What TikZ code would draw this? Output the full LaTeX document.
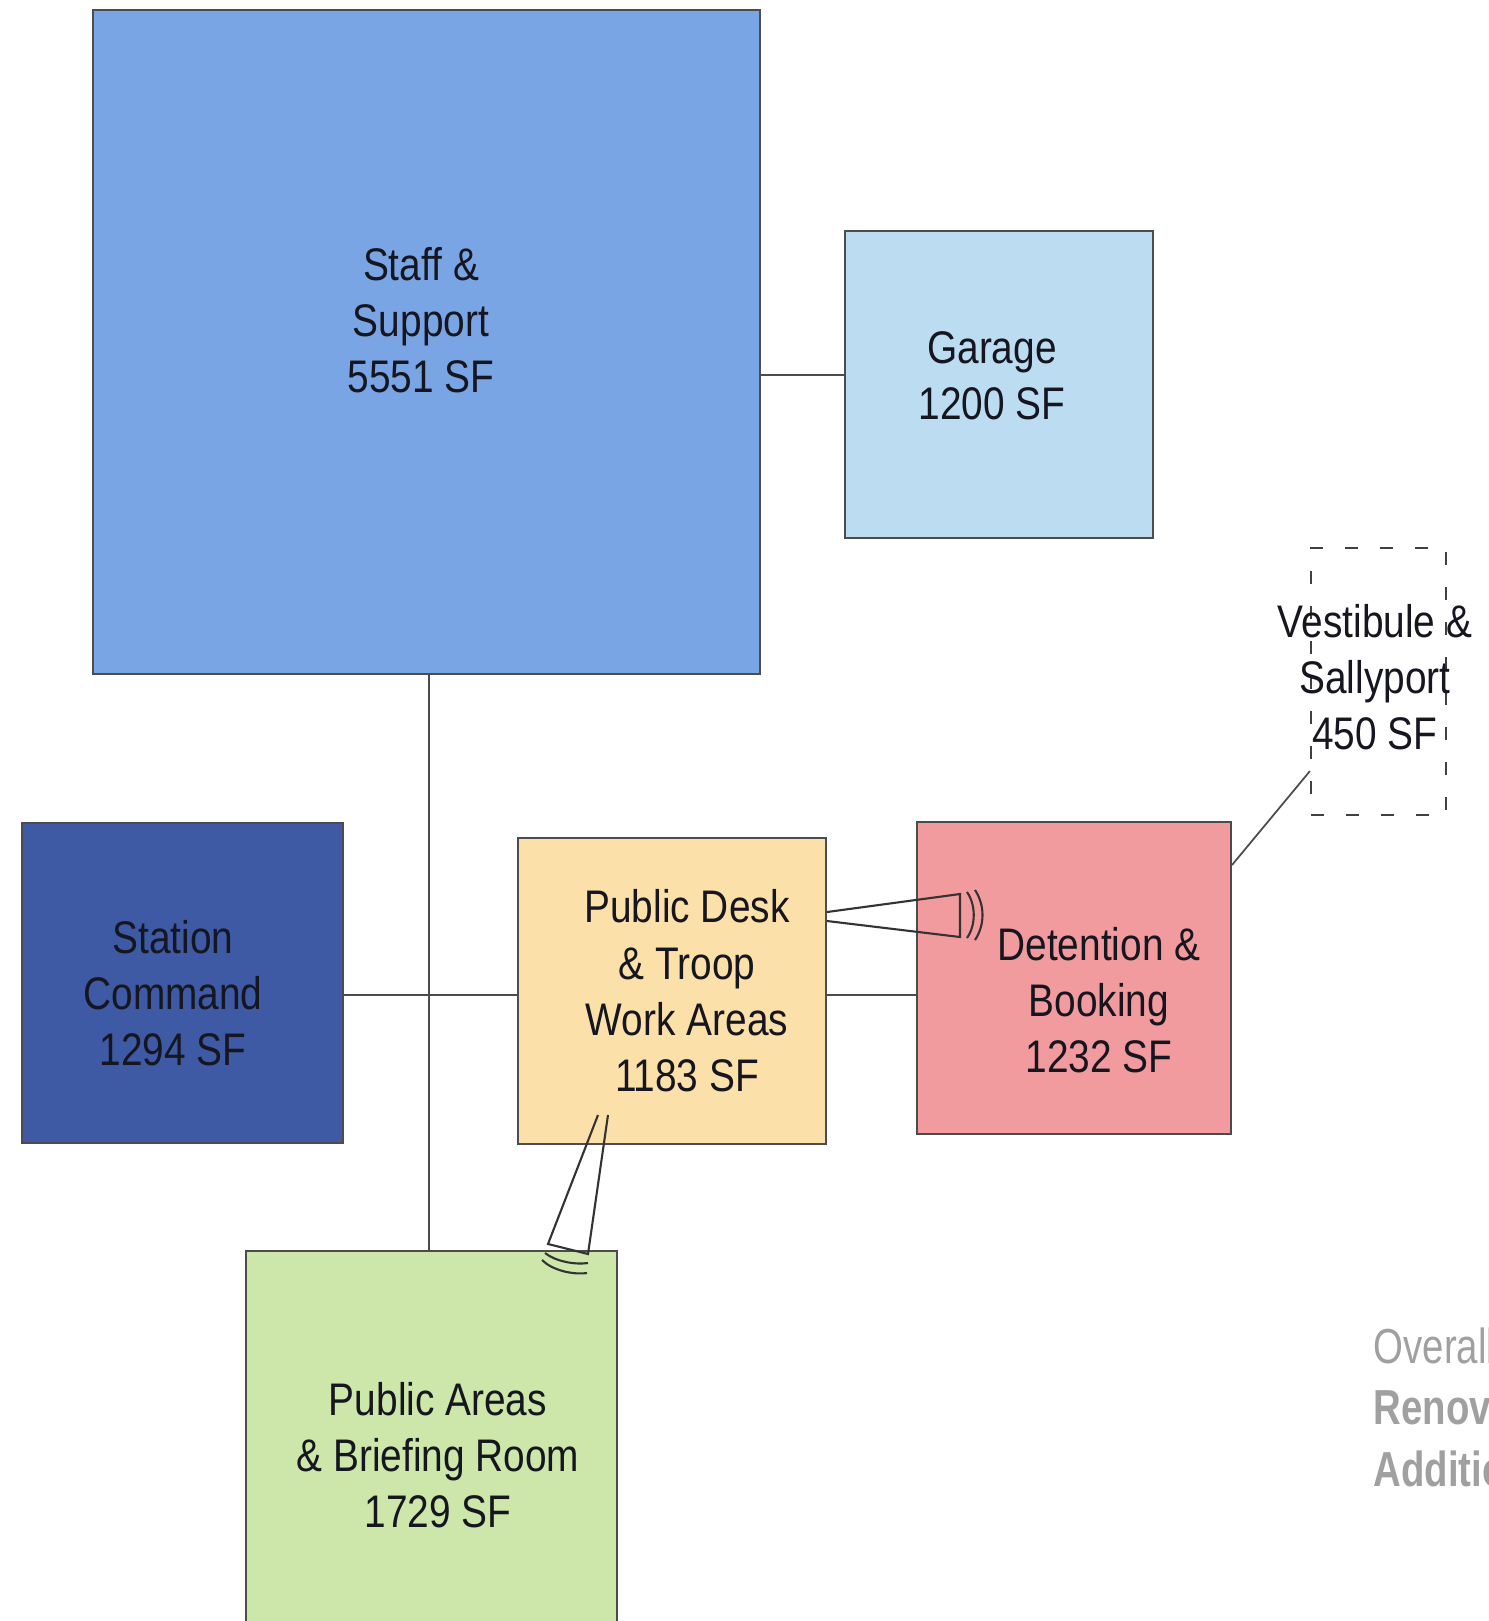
\documentclass[tikz,border=0pt]{standalone}
\usepackage{fontspec}
\setmainfont{Liberation Sans}[FakeStretch=0.85]
\newfontfamily\titlefont{Liberation Sans}[FakeStretch=0.78]
\usepackage{tikz}
\usetikzlibrary{calc}

\definecolor{staffblue}{RGB}{122,165,228}
\definecolor{garageblue}{RGB}{188,220,242}
\definecolor{commandblue}{RGB}{62,90,165}
\definecolor{deskorange}{RGB}{252,224,170}
\definecolor{detpink}{RGB}{242,155,158}
\definecolor{publicgreen}{RGB}{205,230,170}
\definecolor{inkgray}{RGB}{22,22,32}
\definecolor{notegray}{RGB}{160,160,160}

\begin{document}
\begin{tikzpicture}[
    room/.style={draw=black!70, line width=0.6pt, inner sep=0pt},
    roomtext/.style={align=center, text=inkgray, inner sep=0pt,
      font=\fontsize{13}{16}\selectfont},
    link/.style={draw=black!70, line width=0.5pt},
    cone/.style={draw=black!80, line width=0.6pt}]

      \useasboundingbox (0,0) rectangle (14.89,-16.21);

      % Rooms
      \node[room, fill=staffblue, minimum width=6.67cm, minimum height=6.64cm]
        (staff) at (4.265,-3.42) {};
      \node[room, fill=garageblue, minimum width=3.08cm, minimum height=3.07cm]
        (garage) at (9.99,-3.845) {};
      \node[room, fill=commandblue, minimum width=3.21cm, minimum height=3.20cm]
        (station) at (1.825,-9.83) {};
      \node[room, fill=deskorange, minimum width=3.08cm, minimum height=3.06cm]
        (desk) at (6.72,-9.91) {};
      \node[room, fill=detpink, minimum width=3.14cm, minimum height=3.12cm]
        (det) at (10.74,-9.78) {};
      \node[room, fill=publicgreen, minimum width=3.71cm, minimum height=4.2cm]
        (pub) at (4.315,-14.61) {};

      % Vestibule (future)
      \node[draw=black!75, line width=0.6pt, dash pattern=on 0.13cm off 0.22cm,
        minimum width=1.35cm, minimum height=2.67cm] (vest) at (13.785,-6.815) {};

      % Room labels
      \node[roomtext] (stafflbl) at (4.21,-3.20) {Staff \&\\Support\\5551 SF};
      \node[roomtext] (garagelbl) at (9.92,-3.76) {Garage\\1200 SF};
      \node[roomtext] (stationlbl) at (1.73,-9.93) {Station\\Command\\1294 SF};
      \node[roomtext] (desklbl) at (6.87,-9.91) {Public Desk\\\& Troop\\Work Areas\\1183 SF};
      \node[roomtext] (detlbl) at (10.99,-10.00) {Detention \&\\Booking\\1232 SF};
      \node[roomtext] (vestlbl) at (13.75,-6.77) {Vestibule \&\\Sallyport\\450 SF};
      \node[roomtext] (publbl) at (4.38,-14.55) {Public Areas\\\& Briefing Room\\1729 SF};

      % Connections
      \draw[link] (garage.west |- 0,-3.75) -- (staff.east |- 0,-3.75);
      \draw[link] (staff.south -| 4.29,0) -- (pub.north -| 4.29,0);
      \draw[link] (station.east |- 0,-9.95) -- (desk.west |- 0,-9.95);
      \draw[link] (desk.east |- 0,-9.95) -- (det.west |- 0,-9.95);
      \draw[link] ([yshift=-0.44cm]det.north east) -- ([yshift=0.45cm]vest.south west);

      % Sound cone from desk to detention
      \coordinate (c1a) at ([yshift=0.79cm]desk.east);
      \coordinate (c1b) at ([yshift=0.70cm]desk.east);
      \draw[cone] (c1a) -- (9.60,-8.94) -- (9.60,-9.37) -- (c1b);
      \draw[cone] (9.67,-8.92) .. controls (9.76,-9.05) and (9.76,-9.25) .. (9.67,-9.38);
      \draw[cone] (9.75,-8.90) .. controls (9.85,-9.05) and (9.85,-9.25) .. (9.75,-9.40);

      % Sound cone from desk to public areas
      \draw[cone] (5.98,-11.15) -- (5.48,-12.44) -- (5.88,-12.54) -- (6.08,-11.15);
      \draw[cone] (5.45,-12.53) .. controls (5.55,-12.61) and (5.74,-12.65) .. (5.88,-12.63);
      \draw[cone] (5.42,-12.60) .. controls (5.52,-12.70) and (5.72,-12.75) .. (5.87,-12.73);

      % Title (cut off at edge)
      \node[anchor=north west, align=left, inner sep=0pt, text=notegray,
        font=\titlefont\fontsize{14}{17.5}\selectfont] (title) at (13.73,-13.27)
        {Overall\\\textbf{Renovation \&}\\\textbf{Addition}};

    \end{tikzpicture}
\end{document}
